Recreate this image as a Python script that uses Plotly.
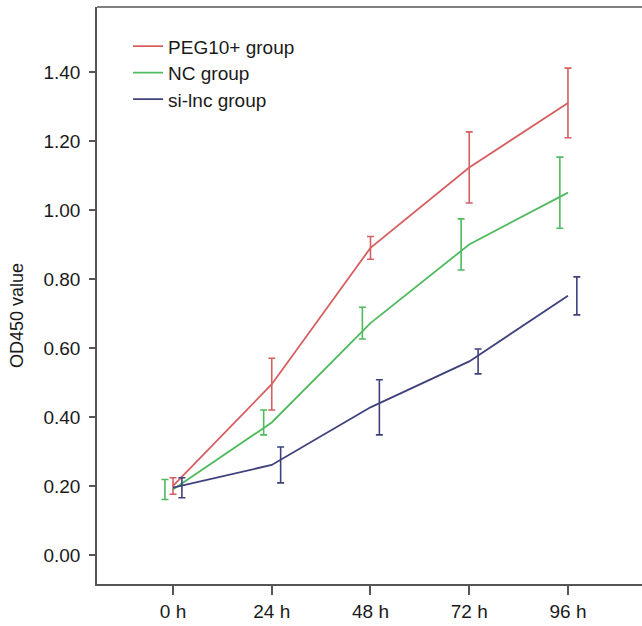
import plotly.graph_objects as go

time_labels = ["0 h", "24 h", "48 h", "72 h", "96 h"]
time_pos = [0, 1, 2, 3, 4]

peg10_mean = [0.20, 0.495, 0.89, 1.123, 1.31]
peg10_err = [0.024, 0.075, 0.033, 0.103, 0.101]

nc_mean = [0.19, 0.384, 0.672, 0.90, 1.05]
nc_err = [0.029, 0.036, 0.046, 0.074, 0.103]

si_mean = [0.195, 0.261, 0.428, 0.561, 0.751]
si_err = [0.029, 0.052, 0.080, 0.036, 0.055]

series = [
    ("PEG10+ group", peg10_mean, peg10_err, "#d65f61", 0.0, "legend"),
    ("NC group", nc_mean, nc_err, "#4fba5e", -0.082, "legend2"),
    ("si-lnc group", si_mean, si_err, "#3f417c", 0.09, "legend3"),
]

FONT = "Liberation Sans, Arial, sans-serif"
fig = go.Figure()

for name, mean, err, color, off, lg in series:
    fig.add_trace(go.Scatter(
        x=time_pos, y=mean, mode="lines", name=name,
        line=dict(color=color, width=1.8), legend=lg,
    ))
    fig.add_trace(go.Scatter(
        x=[p + off for p in time_pos], y=mean, mode="markers",
        marker=dict(size=1, color="rgba(0,0,0,0)"),
        error_y=dict(type="data", array=err, visible=True,
                     color=color, thickness=1.6, width=3.5),
        showlegend=False, hoverinfo="skip",
    ))

leg_common = dict(xanchor="left", yanchor="middle", bgcolor="rgba(0,0,0,0)",
                  font=dict(family=FONT, size=19, color="#1a1a1a"),
                  borderwidth=0, x=0.057)
fig.update_layout(
    width=642, height=626,
    margin=dict(l=97, r=0, t=7, b=42),
    plot_bgcolor="white", paper_bgcolor="white",
    font=dict(family=FONT, size=19, color="#1a1a1a"),
    legend=dict(**leg_common, y=0.932),
    legend2=dict(**leg_common, y=0.886),
    legend3=dict(**leg_common, y=0.840),
    xaxis=dict(
        range=[-0.77, 4.75], tickvals=time_pos, ticktext=time_labels,
        showgrid=False, zeroline=False, showline=True, linecolor="#555555",
        linewidth=1.5, ticks="outside", ticklen=9, tickwidth=1.5,
        tickcolor="#555555", tickfont=dict(size=19),
    ),
    yaxis=dict(
        range=[-0.084, 1.588], tickvals=[0, 0.2, 0.4, 0.6, 0.8, 1.0, 1.2, 1.4],
        tickformat=".2f", showgrid=False, zeroline=False, showline=True,
        linecolor="#555555", linewidth=1.5, ticks="outside", ticklen=6,
        tickwidth=1.5, tickcolor="#555555", tickfont=dict(size=19),
        ticklabelstandoff=5,
    ),
    shapes=[dict(type="line", xref="paper", yref="paper", x0=0, x1=1, y0=1, y1=1,
                 line=dict(color="#555555", width=1.5))],
    annotations=[dict(text="OD450 value", xref="paper", yref="paper",
                      x=-0.147, y=0.466, textangle=-90, showarrow=False,
                      xanchor="center", yanchor="middle",
                      font=dict(size=18, color="#1a1a1a"))],
)

fig.write_html("out.html", config={"displayModeBar": False},
               post_script="document.body.style.margin='0px';")
